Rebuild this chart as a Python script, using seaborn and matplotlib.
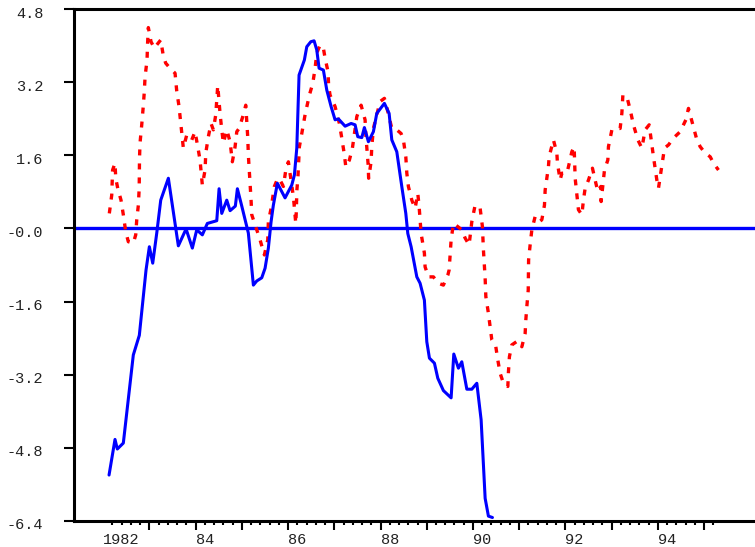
import numpy as np
import pandas as pd
import matplotlib
matplotlib.use("Agg")
import matplotlib.pyplot as plt
import matplotlib.transforms as mtransforms
import seaborn as sns

# ---- data ----
blue_x = [1982.128, 1982.257, 1982.307, 1982.437, 1982.653, 1982.783, 1982.928, 1983.000,
          1983.073, 1983.160, 1983.246, 1983.411, 1983.627, 1983.794, 1983.930, 1984.025,
          1984.146, 1984.254, 1984.458, 1984.508, 1984.566, 1984.674, 1984.746, 1984.860,
          1984.904, 1984.999, 1985.141, 1985.250, 1985.323, 1985.431, 1985.503, 1985.574,
          1985.633, 1985.682, 1985.769, 1985.935, 1986.080, 1986.137, 1986.189, 1986.238,
          1986.353, 1986.405, 1986.492, 1986.563, 1986.621, 1986.671, 1986.764, 1986.838,
          1986.931, 1987.017, 1987.089, 1987.234, 1987.364, 1987.450, 1987.508, 1987.595,
          1987.651, 1987.738, 1987.846, 1987.919, 1988.084, 1988.186, 1988.244, 1988.352,
          1988.460, 1988.547, 1988.590, 1988.662, 1988.785, 1988.856, 1988.949, 1989.001,
          1989.058, 1989.166, 1989.239, 1989.360, 1989.527, 1989.585, 1989.685, 1989.758,
          1989.867, 1989.975, 1990.083, 1990.176, 1990.263, 1990.334, 1990.421]
blue_y = [-5.40, -4.62, -4.83, -4.70, -2.77, -2.34, -0.91, -0.40,
          -0.76, -0.10, 0.62, 1.10, -0.38, -0.01, -0.43, -0.03,
          -0.14, 0.11, 0.17, 0.87, 0.33, 0.62, 0.39, 0.49,
          0.87, 0.49, -0.10, -1.24, -1.15, -1.08, -0.87, -0.43,
          0.15, 0.51, 0.99, 0.67, 0.95, 1.17, 1.76, 3.36,
          3.69, 3.98, 4.09, 4.11, 3.91, 3.51, 3.47, 3.03,
          2.67, 2.38, 2.40, 2.24, 2.30, 2.27, 2.01, 1.99,
          2.21, 1.90, 2.12, 2.52, 2.74, 2.52, 1.94, 1.68,
          0.92, 0.33, -0.11, -0.40, -1.06, -1.20, -1.57, -2.48,
          -2.84, -2.95, -3.28, -3.55, -3.71, -2.75, -3.06, -2.92,
          -3.52, -3.52, -3.39, -4.19, -5.91, -6.30, -6.33]

red_x = [1982.134, 1982.186, 1982.205, 1982.257, 1982.273, 1982.316, 1982.387, 1982.437,
         1982.489, 1982.545, 1982.653, 1982.705, 1982.727, 1982.762, 1982.780, 1982.787,
         1982.798, 1982.835, 1982.870, 1982.891, 1982.907, 1982.950, 1982.960, 1982.978,
         1983.036, 1983.108, 1983.160, 1983.246, 1983.302, 1983.354, 1983.447, 1983.556,
         1983.592, 1983.642, 1983.664, 1983.701, 1983.735, 1983.809, 1983.917, 1983.988,
         1984.047, 1984.096, 1984.146, 1984.205, 1984.220, 1984.276, 1984.334, 1984.384,
         1984.436, 1984.479, 1984.529, 1984.566, 1984.601, 1984.674, 1984.746, 1984.795,
         1984.854, 1984.891, 1984.940, 1985.033, 1985.085, 1985.129, 1985.141, 1985.178,
         1985.200, 1985.215, 1985.286, 1985.395, 1985.488, 1985.561, 1985.574, 1985.633,
         1985.704, 1985.778, 1985.827, 1985.899, 1985.951, 1986.007, 1986.059, 1986.115,
         1986.167, 1986.180, 1986.189, 1986.215, 1986.245, 1986.297, 1986.368, 1986.461,
         1986.535, 1986.585, 1986.621, 1986.693, 1986.764, 1986.801, 1986.865, 1986.878,
         1986.909, 1987.017, 1987.110, 1987.162, 1987.219, 1987.249, 1987.327, 1987.392,
         1987.487, 1987.580, 1987.666, 1987.682, 1987.733, 1987.743, 1987.796, 1987.811,
         1987.846, 1987.919, 1987.991, 1988.084, 1988.158, 1988.244, 1988.352, 1988.445,
         1988.495, 1988.547, 1988.569, 1988.603, 1988.677, 1988.748, 1988.806, 1988.835,
         1988.878, 1988.949, 1988.964, 1989.036, 1989.144, 1989.252, 1989.360, 1989.456,
         1989.484, 1989.527, 1989.577, 1989.672, 1989.758, 1989.830, 1989.916, 1989.975,
         1990.046, 1990.155, 1990.204, 1990.226, 1990.263, 1990.278, 1990.334, 1990.407,
         1990.494, 1990.537, 1990.587, 1990.659, 1990.754, 1990.767, 1990.788, 1990.840,
         1990.970, 1991.057, 1991.128, 1991.143, 1991.165, 1991.195, 1991.203, 1991.236,
         1991.273, 1991.344, 1991.437, 1991.489, 1991.546, 1991.561, 1991.632, 1991.647,
         1991.740, 1991.814, 1991.827, 1991.885, 1991.922, 1992.030, 1992.065, 1992.138,
         1992.188, 1992.199, 1992.210, 1992.247, 1992.281, 1992.355, 1992.389, 1992.426,
         1992.498, 1992.584, 1992.658, 1992.701, 1992.766, 1992.772, 1992.844, 1992.917,
         1992.930, 1993.004, 1993.112, 1993.183, 1993.220, 1993.242, 1993.328, 1993.400,
         1993.471, 1993.566, 1993.653, 1993.724, 1993.811, 1993.854, 1993.904, 1993.977,
         1994.012, 1994.071, 1994.142, 1994.229, 1994.337, 1994.482, 1994.605, 1994.661,
         1994.757, 1994.843, 1994.915, 1995.023, 1995.131, 1995.202, 1995.310]
red_y = [0.33, 0.73, 1.28, 1.43, 1.10, 0.88, 0.62, 0.30,
         -0.07, -0.29, -0.32, -0.14, 0.19, 0.51, 0.88, 1.54,
         1.87, 2.27, 2.70, 3.00, 3.32, 3.69, 4.02, 4.40,
         4.09, 3.95, 4.02, 4.13, 3.78, 3.62, 3.51, 3.40,
         3.01, 2.67, 2.45, 2.08, 1.76, 2.05, 1.94, 2.12,
         1.79, 1.50, 0.95, 1.28, 1.65, 2.01, 2.30, 2.16,
         2.49, 3.13, 2.52, 2.16, 1.87, 2.16, 1.90, 1.46,
         1.79, 2.12, 2.19, 2.49, 2.70, 1.98, 1.61, 0.99,
         0.62, 0.30, 0.08, -0.25, -0.58, -0.25, 0.15, 0.44,
         0.92, 1.10, 1.06, 0.92, 1.28, 1.46, 1.10, 0.70,
         0.11, 0.40, 0.81, 1.15, 1.79, 2.08, 2.49, 2.92,
         3.18, 3.51, 3.84, 4.02, 3.95, 3.73, 3.43, 3.11,
         2.92, 2.67, 2.30, 1.98, 1.61, 1.35, 1.50, 1.76,
         2.45, 2.70, 2.38, 2.05, 1.39, 1.10, 1.46, 1.79,
         2.19, 2.49, 2.78, 2.85, 2.56, 2.19, 2.16, 2.08,
         1.94, 1.57, 1.21, 0.92, 0.62, 0.44, 0.77, 0.48,
         -0.11, -0.54, -0.84, -1.06, -1.06, -1.20, -1.24, -1.02,
         -0.91, -0.25, 0.11, 0.04, -0.03, -0.21, -0.36, 0.15,
         0.51, 0.44, 0.04, -0.47, -1.09, -1.49, -1.86, -2.44,
         -2.59, -2.88, -3.17, -3.39, -3.46, -3.14, -2.81, -2.55,
         -2.46, -2.59, -2.30, -2.00, -1.71, -1.35, -0.69, -0.36,
         -0.03, 0.26, 0.15, 0.19, 0.51, 0.84, 1.35, 1.57,
         1.94, 1.65, 1.43, 1.06, 1.21, 1.21, 1.35, 1.68,
         1.79, 1.43, 1.10, 0.73, 0.41, 0.30, 0.62, 0.88,
         1.06, 1.32, 0.99, 0.81, 0.92, 0.59, 1.28, 1.50,
         1.79, 2.16, 2.19, 2.19, 2.52, 2.92, 2.89, 2.60,
         2.27, 1.94, 1.76, 2.16, 2.27, 1.94, 1.57, 1.06,
         0.88, 1.28, 1.76, 1.83, 1.98, 2.12, 2.38, 2.63,
         2.27, 1.94, 1.79, 1.65, 1.57, 1.43, 1.28]

y_ticks = [4.8, 3.2, 1.6, 0.0, -1.6, -3.2, -4.8, -6.4]
y_tick_labels = ["4.8", "3.2", "1.6", "-0.0", "-1.6", "-3.2", "-4.8", "-6.4"]
x_label_years = [1982, 1984, 1986, 1988, 1990, 1992, 1994]
x_labels = ["1982", "84", "86", "88", "90", "92", "94"]
x_major_years = list(range(1983, 1996))

# ---- figure ----
sns.set_style("white")
plt.rcParams["font.family"] = ["Liberation Mono", "DejaVu Sans Mono"]

W, H = 755, 547
fig = plt.figure(figsize=(W / 100, H / 100), dpi=100)
left_px, right_px, top_px, bot_px = 74, 755, 9.3, 520.7
ax = fig.add_axes([left_px / W, (H - bot_px) / H, (right_px - left_px) / W, (bot_px - top_px) / H])

blue_df = pd.DataFrame({"year": blue_x, "value": blue_y})
red_df = pd.DataFrame({"year": red_x, "value": red_y})

ax.axhline(0, color="#0000ff", lw=2.4, zorder=1)
sns.lineplot(data=red_df, x="year", y="value", ax=ax, color="#ff0000", lw=2.4,
             estimator=None, sort=False, linestyle=(0, (1.8, 2.4)),
             dash_capstyle="butt", zorder=2)
sns.lineplot(data=blue_df, x="year", y="value", ax=ax, color="#0000ff", lw=2.2,
             estimator=None, sort=False, zorder=3)

ax.set_xlim(1981.37, 1996.10)
ax.set_ylim(-6.4, 4.8)
ax.set_xlabel("")
ax.set_ylabel("")

for side in ["left", "bottom", "top"]:
    ax.spines[side].set_visible(True)
    ax.spines[side].set_color("black")
    ax.spines[side].set_linewidth(2.2)
ax.spines["right"].set_visible(False)

ax.set_yticks(y_ticks)
ax.set_yticklabels(y_tick_labels)
ax.tick_params(axis="y", direction="out", length=7.2, width=1.5, color="black",
               pad=15, labelsize=11, labelcolor="#222222", left=True)
off = mtransforms.ScaledTranslation(0, -3 / 100, fig.dpi_scale_trans)
for lab in ax.get_yticklabels():
    lab.set_transform(lab.get_transform() + off)

ax.set_xticks(x_major_years)
ax.set_xticklabels([])
minor = [round(1982.2 + 0.2 * i, 2) for i in range(0, 66)]
minor = [m for m in minor if abs(m - round(m)) > 1e-6 and m <= 1995.3]
ax.set_xticks(minor, minor=True)
ax.tick_params(axis="x", which="major", direction="out", length=6.5, width=1.5,
               color="black", bottom=True)
ax.tick_params(axis="x", which="minor", direction="out", length=3, width=1.5,
               color="black", bottom=True)

for yr, lab in zip(x_label_years, x_labels):
    ax.annotate(lab, xy=(yr, 0), xycoords=("data", "axes fraction"),
                xytext=(0, -8.5), textcoords="offset points",
                ha="left", va="top", fontsize=11, color="#222222")

ax.grid(False)
fig.savefig("out.png", dpi=100)
